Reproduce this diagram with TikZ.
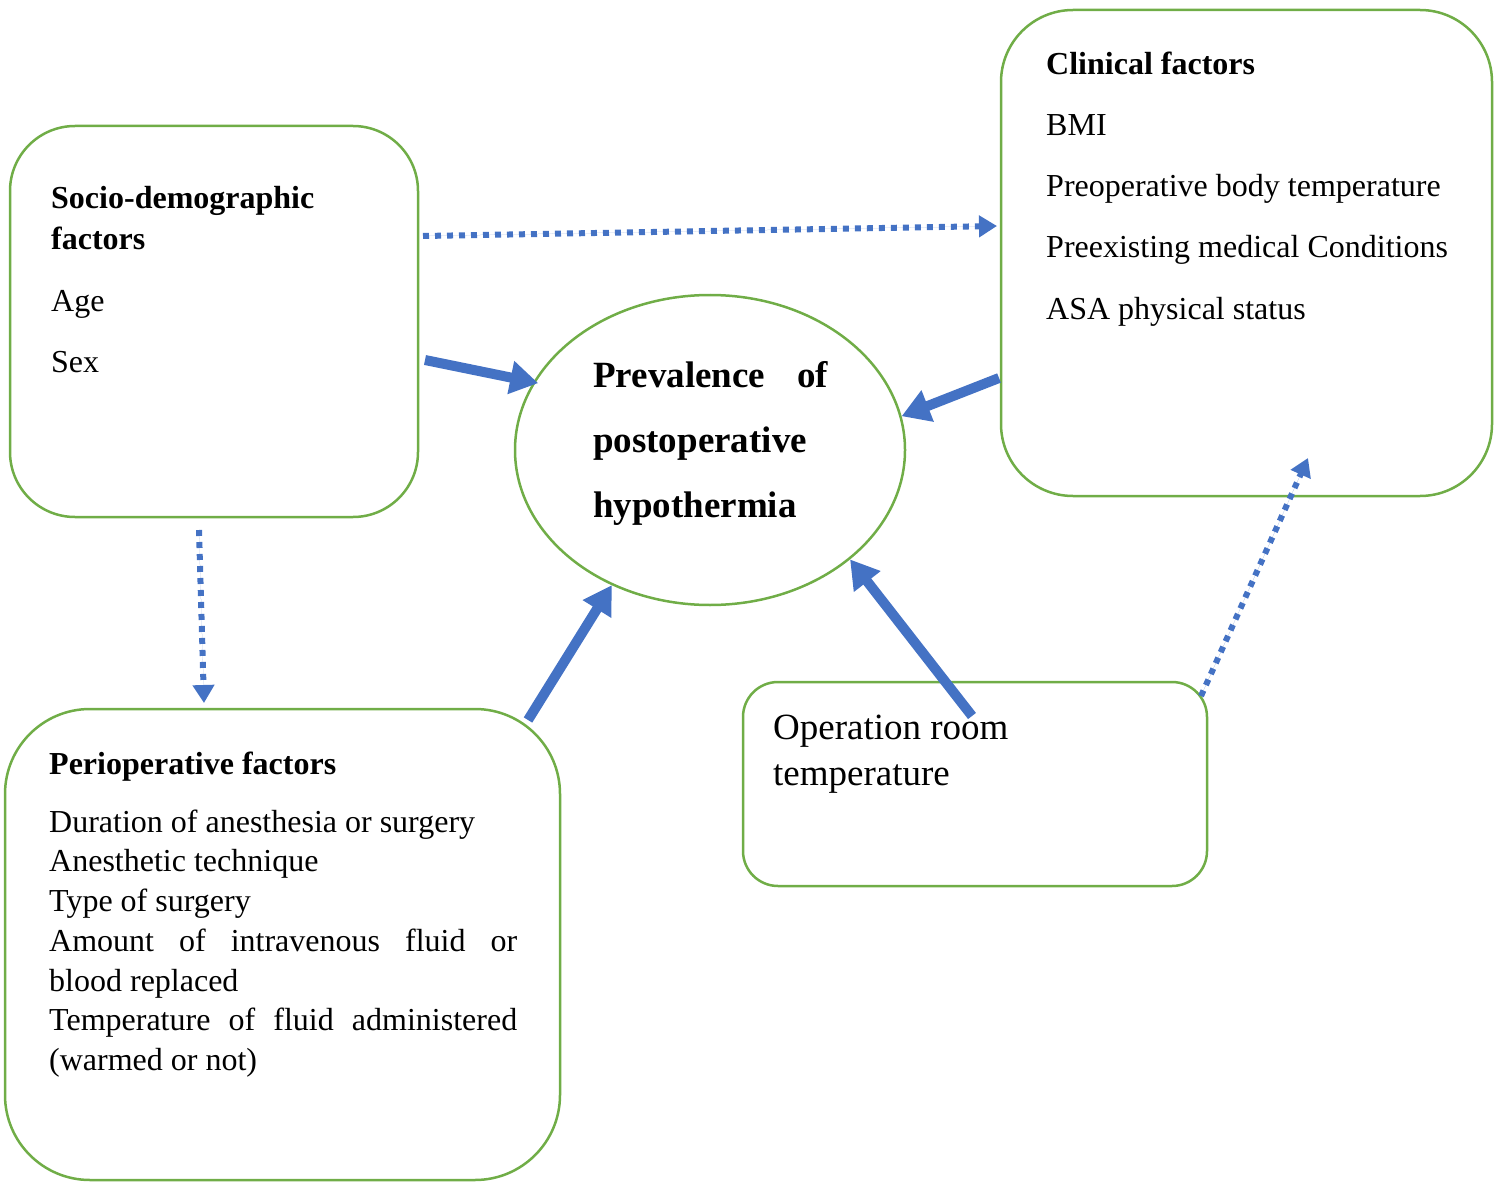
\documentclass[tikz,border=0pt]{standalone}
\usepackage{fontspec}
\setmainfont{Liberation Serif}
\usetikzlibrary{shapes.geometric,arrows.meta}
\definecolor{boxgreen}{HTML}{70AD47}
\definecolor{arrowblue}{HTML}{4472C4}
\tikzset{
  box/.style={draw=boxgreen, line width=2.5pt, rectangle, inner sep=0pt},
  txt/.style={anchor=base west, inner sep=0pt, font=\fontsize{32}{38}\selectfont},
  btxt/.style={txt, font=\fontsize{32}{38}\selectfont\bfseries},
  bigtxt/.style={anchor=base west, inner sep=0pt, font=\fontsize{37}{44}\selectfont},
  bigbtxt/.style={bigtxt, font=\fontsize{37}{44}\selectfont\bfseries},
  thickarrow/.style={draw=arrowblue, line width=10pt, -{Triangle[length=28pt,width=32pt]}, fill=arrowblue},
  dotarrow/.style={draw=arrowblue, line width=6pt, dash pattern=on 6pt off 6pt, -{Triangle[length=18pt,width=21pt]}, fill=arrowblue}
}
\begin{document}
\begin{tikzpicture}[x=1pt,y=-1pt]
\useasboundingbox (0,0) rectangle (1504,1182);
% boxes
\node[box, minimum width=408pt, minimum height=391pt, rounded corners=65pt] (socio) at (214,321.5) {};
\node[box, minimum width=491pt, minimum height=486pt, rounded corners=72pt] (clin) at (1246.5,253) {};
\node[box, minimum width=555pt, minimum height=471pt, rounded corners=85pt] (peri) at (282.5,944.5) {};
\node[box, minimum width=464pt, minimum height=204pt, rounded corners=35pt] (oper) at (975,784) {};
\node[draw=boxgreen, line width=2.5pt, ellipse, minimum width=390pt, minimum height=310pt, inner sep=0pt] (ell) at (710,450) {};
% socio text
\node[btxt] (s1) at (51,209) {Socio-demographic};
\node[btxt] (s2) at (51,250) {factors};
\node[txt] (s3) at (51,311) {Age};
\node[txt] (s4) at (51,372) {Sex};
% clinical text
\node[btxt] (c1) at (1046,75) {Clinical factors};
\node[txt] (c2) at (1046,136) {BMI};
\node[txt] (c3) at (1046,197) {Preoperative body temperature};
\node[txt] (c4) at (1046,258) {Preexisting medical Conditions};
\node[txt] (c5) at (1046,319) {ASA physical status};
% perioperative text
\node[btxt] (p1) at (49,774) {Perioperative factors};
\node[txt] (p2) at (49,832) {Duration of anesthesia or surgery};
\node[txt] (p3) at (49,871) {Anesthetic technique};
\node[txt] (p4) at (49,911) {Type of surgery};
\node[txt] (p5) at (49,951) {\hbox to 468pt{Amount\hfill of\hfill intravenous\hfill fluid\hfill or}};
\node[txt] (p6) at (49,991) {blood replaced};
\node[txt] (p7) at (49,1030) {\hbox to 468pt{Temperature\hfill of\hfill fluid\hfill administered}};
\node[txt] (p8) at (49,1070) {(warmed or not)};
% ellipse text
\node[bigbtxt] (e1) at (593,387) {\hbox to 235pt{Prevalence\hfill of}};
\node[bigbtxt] (e2) at (593,452) {postoperative};
\node[bigbtxt] (e3) at (593,517) {hypothermia};
% operation text
\node[bigtxt] (o1) at (773,739) {Operation room};
\node[bigtxt] (o2) at (773,785) {temperature};
% connector end points
\coordinate (soR) at (423,236);
\coordinate (clL) at (997,226);
\coordinate (soE) at (425,360);
\coordinate (clE) at (999,378);
\coordinate (soB) at (199,530);
\coordinate (peT) at (204,703);
\coordinate (peE) at (528,720);
\coordinate (opE) at (972,716);
\coordinate (opR) at (1201,696);
\coordinate (clB) at (1308,458);
% connectors
\draw[dotarrow] (soR) -- (clL);
\draw[dotarrow] (soB) -- (peT);
\draw[dotarrow] (opR) -- (clB);
\draw[thickarrow] (soE) -- ([shift={(5pt,-1pt)}]ell.159.4);
\draw[thickarrow] (clE) -- (ell.10);
\draw[thickarrow] (peE) -- (ell.-126);
\draw[thickarrow] (opE) -- (ell.-38.6);
\end{tikzpicture}
\end{document}
